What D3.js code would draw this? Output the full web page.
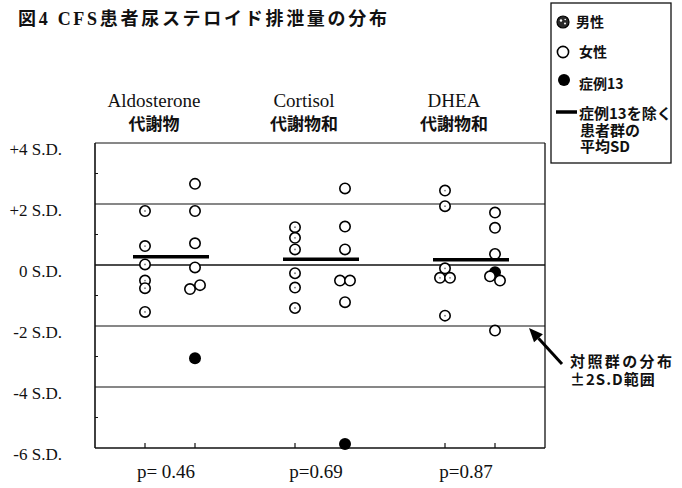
<!DOCTYPE html>
<html lang="ja">
<head>
<meta charset="utf-8">
<script src="https://cdn.jsdelivr.net/npm/d3@7"></script>
<style>
  html, body { margin: 0; padding: 0; background: #fff; }
  svg { display: block; }
</style>
</head>
<body>
<svg id="chart" width="682" height="488"></svg>
<script>
// ---- data (S.D. scores relative to the control group) ----
const groups = ["Aldosterone", "Cortisol", "DHEA"];
const groupSubtitles = ["代謝物", "代謝物和", "代謝物和"];
const sexes = ["男性", "女性"];

const aldosteroneMale   = [1.77, 0.62, 0.02, -0.51, -0.76, -1.54];
const aldosteroneFemale = [2.66, 1.77, 0.71, -0.08, -0.79, -0.66];
const cortisolMale      = [1.24, 0.89, 0.51, -0.27, -0.74, -1.41];
const cortisolFemale    = [2.51, 1.26, 0.51, -0.51, -0.51, -1.22];
const dheaMale          = [2.44, 1.93, -0.11, -0.42, -0.42, -1.66];
const dheaFemale        = [1.72, 1.22, 0.36, -0.37, -0.51, -2.15];

// case 13 (female), one value per group
const case13 = [-3.06, -5.87, -0.24];
const case13Sex = "女性";

const pValues = ["p= 0.46", "p=0.69", "p=0.87"];

const yTicks = [4, 2, 0, -2, -4, -6];
const tickLabels = ["+4 S.D.", "+2 S.D.", "0 S.D.", "-2 S.D.", "-4 S.D.", "-6 S.D."];
const refLines = [2, 0, -2, -4];
const minorTicks = [3, 1, -1, -3, -5];

const seriesBySex = {
  "Aldosterone": { "男性": aldosteroneMale, "女性": aldosteroneFemale },
  "Cortisol":    { "男性": cortisolMale,    "女性": cortisolFemale },
  "DHEA":        { "男性": dheaMale,        "女性": dheaFemale }
};

// ---- layout ----
const svg = d3.select("#chart");
const plot = { left: 95, right: 545, top: 143, bottom: 448 };
const serif = "'Liberation Serif', 'Times New Roman', serif";
const gothic = "'Noto Sans CJK JP', 'Noto Sans', sans-serif";

const y = d3.scaleLinear().domain([-6, 4]).range([plot.bottom, plot.top]);
const xGroup = d3.scaleBand().domain(groups).range([plot.left, plot.right]);
const xSex = d3.scalePoint().domain(sexes).range([0, xGroup.bandwidth()]).padding(1);
const colX = (g, s) => xGroup(g) + xSex(s);
const groupMid = g => xGroup(g) + xGroup.bandwidth() / 2;

svg.append("rect").attr("width", 682).attr("height", 488).attr("fill", "#fff");

// ---- title ----
const title = svg.append("text")
  .attr("x", 18).attr("y", 25)
  .attr("font-weight", 700).attr("font-size", 18).attr("fill", "#111")
  .attr("textLength", 369).attr("lengthAdjust", "spacing");
title.append("tspan").attr("font-family", gothic).text("図");
title.append("tspan").attr("font-family", serif).text("4 CFS");
title.append("tspan").attr("font-family", gothic).text("患者尿ステロイド排泄量の分布");

// ---- reference lines and frame ----
svg.append("g").selectAll("line").data(refLines).join("line")
  .attr("x1", plot.left).attr("x2", plot.right)
  .attr("y1", d => y(d)).attr("y2", d => y(d))
  .attr("stroke", "#111")
  .attr("stroke-width", d => d === 0 ? 1.6 : 1.1);

svg.append("line").attr("x1", plot.left).attr("x2", plot.right)
  .attr("y1", plot.top).attr("y2", plot.top).attr("stroke", "#111").attr("stroke-width", 1);
svg.append("line").attr("x1", plot.right).attr("x2", plot.right)
  .attr("y1", plot.top).attr("y2", plot.bottom).attr("stroke", "#111").attr("stroke-width", 1.3);
svg.append("line").attr("x1", plot.left).attr("x2", plot.left)
  .attr("y1", plot.top).attr("y2", plot.bottom).attr("stroke", "#111").attr("stroke-width", 1.6);
svg.append("line").attr("x1", plot.left).attr("x2", plot.right)
  .attr("y1", plot.bottom).attr("y2", plot.bottom).attr("stroke", "#111").attr("stroke-width", 1.6);

// minor ticks on the left axis
svg.append("g").selectAll("line").data(minorTicks).join("line")
  .attr("x1", plot.left).attr("x2", plot.left + 3)
  .attr("y1", d => y(d)).attr("y2", d => y(d))
  .attr("stroke", "#111").attr("stroke-width", 1);

// ---- y axis labels ----
const yAxis = svg.append("g")
  .attr("transform", `translate(${plot.left},0)`)
  .call(d3.axisLeft(y).tickValues(yTicks)
    .tickFormat((d, i) => tickLabels[i]).tickSize(0).tickPadding(33));
yAxis.select(".domain").remove();
yAxis.selectAll("text")
  .attr("font-family", serif).attr("font-size", 17).attr("fill", "#111")
  .attr("transform", "translate(0,6)");

// ---- column ticks on the bottom axis ----
const columns = groups.flatMap(g => sexes.map(s => ({ g, s, values: seriesBySex[g][s] })));
svg.append("g").selectAll("line").data(columns).join("line")
  .attr("x1", d => colX(d.g, d.s)).attr("x2", d => colX(d.g, d.s))
  .attr("y1", plot.bottom - 5).attr("y2", plot.bottom)
  .attr("stroke", "#111").attr("stroke-width", 1.2);

// ---- group headings ----
const headings = svg.append("g");
headings.selectAll("text.en").data(groups).join("text")
  .attr("class", "en")
  .attr("x", d => groupMid(d) - 16).attr("y", 107)
  .attr("text-anchor", "middle")
  .attr("font-family", serif).attr("font-size", 19).attr("fill", "#111")
  .text(d => d);
headings.selectAll("text.ja").data(groups).join("text")
  .attr("class", "ja")
  .attr("x", d => groupMid(d) - 16).attr("y", 130)
  .attr("text-anchor", "middle")
  .attr("font-family", gothic).attr("font-weight", 700).attr("font-size", 17).attr("fill", "#111")
  .text((d, i) => groupSubtitles[i]);

// ---- p values ----
svg.append("g").selectAll("text").data(groups).join("text")
  .attr("x", d => groupMid(d) - 4).attr("y", 478)
  .attr("text-anchor", "middle")
  .attr("font-family", serif).attr("font-size", 19).attr("fill", "#111")
  .text((d, i) => pValues[i]);

// ---- case 13 (drawn beneath the open circles) ----
svg.append("g").selectAll("circle").data(groups).join("circle")
  .attr("cx", d => colX(d, case13Sex))
  .attr("cy", (d, i) => y(case13[i]))
  .attr("r", 6).attr("fill", "#000");

// ---- patient points; near-coincident points in a column are spread sideways ----
const points = [];
columns.forEach(c => {
  const pts = c.values.map(v => ({ g: c.g, s: c.s, v, dx: 0 }));
  pts.forEach((p, i) => {
    for (let j = 0; j < i; j++) {
      const q = pts[j];
      if (p.dx === 0 && q.dx === 0 && Math.abs(y(p.v) - y(q.v)) < 6) {
        q.dx = -5; p.dx = 5;
      }
    }
  });
  points.push(...pts);
});

const ptG = svg.append("g").selectAll("g").data(points).join("g")
  .attr("transform", d => `translate(${colX(d.g, d.s) + d.dx},${y(d.v)})`);
ptG.append("circle").attr("r", 5.2)
  .attr("fill", "#fff").attr("stroke", "#000").attr("stroke-width", 1.6);
ptG.filter(d => d.s === "男性").append("circle")
  .attr("r", 0.9).attr("fill", "#777");

// ---- group means (case 13 excluded) ----
const groupMean = g => d3.mean([...seriesBySex[g]["男性"], ...seriesBySex[g]["女性"]]);
svg.append("g").selectAll("line").data(groups).join("line")
  .attr("x1", d => groupMid(d) - 37).attr("x2", d => groupMid(d) + 39)
  .attr("y1", d => y(groupMean(d)))
  .attr("y2", d => y(groupMean(d)))
  .attr("stroke", "#000").attr("stroke-width", 3.5);

// ---- legend ----
const lg = svg.append("g");
lg.append("rect").attr("x", 551).attr("y", 3).attr("width", 120).attr("height", 160)
  .attr("fill", "none").attr("stroke", "#111").attr("stroke-width", 1.3);

const male = lg.append("g").attr("transform", "translate(563,22)");
male.append("circle").attr("r", 6).attr("fill", "#2a2a2a").attr("stroke", "#000").attr("stroke-width", 1.2);
male.append("circle").attr("cx", -2).attr("cy", -1.5).attr("r", 1.2).attr("fill", "#fff");
male.append("circle").attr("cx", 2).attr("cy", 1.5).attr("r", 1).attr("fill", "#fff");
male.append("circle").attr("cx", 2.2).attr("cy", -2.5).attr("r", 0.8).attr("fill", "#fff");

lg.append("circle").attr("cx", 563).attr("cy", 52).attr("r", 5.6)
  .attr("fill", "#fff").attr("stroke", "#000").attr("stroke-width", 1.6);
lg.append("circle").attr("cx", 564).attr("cy", 80).attr("r", 6).attr("fill", "#000");
lg.append("line").attr("x1", 556).attr("x2", 577).attr("y1", 112).attr("y2", 112)
  .attr("stroke", "#000").attr("stroke-width", 3.5);

const legendText = [
  { lines: [sexes[0]], x: 576, y: 27, size: 14 },
  { lines: [sexes[1]], x: 579, y: 57, size: 14 },
  { lines: ["症例13"], x: 579, y: 89, size: 14 },
  { lines: ["症例13を除く", "患者群の", "平均SD"], x: 579, y: 119, size: 15 }
];
lg.selectAll("text").data(legendText).join("text")
  .attr("x", d => d.x).attr("y", d => d.y)
  .attr("font-family", gothic).attr("font-weight", 700)
  .attr("font-size", d => d.size).attr("fill", "#111")
  .each(function (d) {
    d3.select(this).selectAll("tspan").data(d.lines).join("tspan")
      .attr("x", (t, i) => d.x + (i ? 1 : 0))
      .attr("dy", (t, i) => i ? 16.5 : 0)
      .text(t => t);
  });

// ---- annotation for the control range ----
const tip = [plot.right - 16, y(-2) + 2];
const tail = [562, 364];
const ang = Math.atan2(tip[1] - tail[1], tip[0] - tail[0]);
const headLen = 14, headW = 6;
const base = [tip[0] - headLen * Math.cos(ang), tip[1] - headLen * Math.sin(ang)];
svg.append("line")
  .attr("x1", tail[0]).attr("y1", tail[1]).attr("x2", base[0]).attr("y2", base[1])
  .attr("stroke", "#000").attr("stroke-width", 3);
svg.append("path")
  .attr("d", `M${tip[0]},${tip[1]}L${base[0] + headW * Math.sin(ang)},${base[1] - headW * Math.cos(ang)}L${base[0] - headW * Math.sin(ang)},${base[1] + headW * Math.cos(ang)}Z`)
  .attr("fill", "#000");

const note = svg.append("text").attr("x", 570).attr("y", 367)
  .attr("font-family", gothic).attr("font-weight", 700).attr("font-size", 15).attr("fill", "#111");
note.append("tspan").attr("x", 570).attr("letter-spacing", 2.4).text("対照群の分布");
note.append("tspan").attr("x", 570).attr("dy", 18).attr("letter-spacing", 1).text("±2S.D範囲");
</script>
</body>
</html>
